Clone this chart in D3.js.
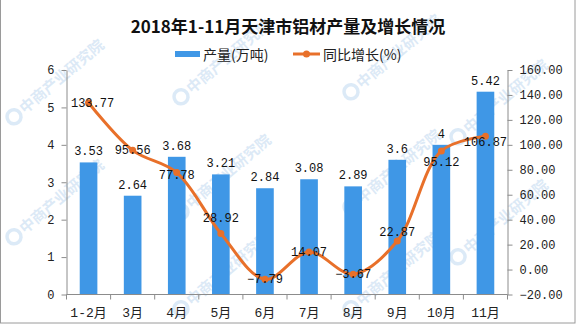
<!DOCTYPE html>
<html>
<head>
<meta charset="utf-8">
<script src="https://cdn.jsdelivr.net/npm/d3@7"></script>
<style>
  html, body { margin: 0; padding: 0; background: #fff; }
  svg { display: block; }
</style>
</head>
<body>
<svg id="chart" width="576" height="327"></svg>
<script>
// 天津市铝材产量（万吨）及同比增长（%）
const categories = ["1-2月", "3月", "4月", "5月", "6月", "7月", "8月", "9月", "10月", "11月"];
const output = [3.53, 2.64, 3.68, 3.21, 2.84, 3.08, 2.89, 3.6, 4, 5.42];
const growth = [133.77, 95.56, 77.78, 28.92, -7.79, 14.07, -3.67, 22.87, 95.12, 106.87];
const leftTicks = [0, 1, 2, 3, 4, 5, 6];
const rightTicks = [-20, 0, 20, 40, 60, 80, 100, 120, 140, 160];

const W = 576, H = 327;
const plot = { left: 66.5, right: 507.5, top: 70, bottom: 294.5 };
const barColor = "#3f97e6";
const lineColor = "#e8702a";
const axisColor = "#8c8c8c";
const numFont = "'Liberation Mono', 'Noto Sans CJK SC', monospace";

const svg = d3.select("#chart");

// frame
svg.append("rect")
  .attr("x", 0.5).attr("y", -1).attr("width", W - 1.5).attr("height", H - 3)
  .attr("fill", "#fff").attr("stroke", "#9a9a9a");

// faint brand watermark
const wm = svg.append("g").attr("pointer-events", "none");
const wmSpots = [[18, 120], [18, 240], [185, 100], [185, 215], [185, 312],
                 [355, 95], [355, 210], [355, 312], [462, 140], [462, 260]];
wmSpots.forEach(([x, y]) => {
  const g = wm.append("g").attr("transform", `translate(${x},${y}) rotate(-40)`);
  g.append("circle").attr("cx", -1).attr("cy", -5).attr("r", 7)
    .attr("fill", "none").attr("stroke", "#9cc3e8").attr("stroke-width", 3.5).attr("opacity", 0.35);
  g.append("text").attr("x", 9).attr("y", 0)
    .attr("font-family", "'Noto Sans CJK SC', sans-serif").attr("font-size", 15)
    .attr("font-weight", "bold")
    .attr("fill", "#9cc3e8").attr("opacity", 0.35)
    .text("中商产业研究院");
});

// title
svg.append("text")
  .attr("x", W / 2).attr("y", 33)
  .attr("text-anchor", "middle")
  .attr("font-family", "'Noto Sans CJK SC', sans-serif")
  .attr("font-size", 17).attr("font-weight", "bold").attr("fill", "#111")
  .text("2018年1-11月天津市铝材产量及增长情况");

// legend
const lg = svg.append("g").attr("font-family", "'Noto Sans CJK SC', sans-serif")
  .attr("font-size", 14).attr("fill", "#222");
lg.append("rect").attr("x", 175).attr("y", 51).attr("width", 25).attr("height", 6).attr("fill", barColor);
lg.append("text").attr("x", 203).attr("y", 60).text("产量(万吨)");
lg.append("line").attr("x1", 293).attr("x2", 320).attr("y1", 54).attr("y2", 54)
  .attr("stroke", lineColor).attr("stroke-width", 3);
lg.append("circle").attr("cx", 306.5).attr("cy", 54).attr("r", 3.5).attr("fill", lineColor);
lg.append("text").attr("x", 323).attr("y", 60).text("同比增长(%)");

// scales
const x = d3.scaleBand().domain(categories)
  .range([plot.left, plot.right]).paddingInner(0.6).paddingOuter(0.3);
const yL = d3.scaleLinear().domain([0, 6]).range([plot.bottom, plot.top]);
const yR = d3.scaleLinear().domain([-20, 160]).range([plot.bottom, plot.top]);
const cx = d => x(d) + x.bandwidth() / 2;

// bars
svg.append("g").selectAll("rect").data(output).join("rect")
  .attr("x", (d, i) => x(categories[i]))
  .attr("width", x.bandwidth())
  .attr("y", d => yL(d))
  .attr("height", d => yL(0) - yL(d))
  .attr("fill", barColor);

// bar value labels
svg.append("g").selectAll("text").data(output).join("text")
  .attr("x", (d, i) => cx(categories[i]))
  .attr("y", d => yL(d) - 7)
  .attr("text-anchor", "middle")
  .attr("font-family", numFont).attr("font-size", 12).attr("fill", "#111")
  .text(d => d);

// axes
function styleAxis(g) {
  g.select(".domain").attr("stroke", axisColor);
  g.selectAll(".tick line").attr("stroke", axisColor);
  g.selectAll(".tick text").attr("fill", "#222")
    .attr("font-family", numFont).attr("font-size", 12);
}

svg.append("g")
  .attr("transform", `translate(${plot.left},0)`)
  .call(d3.axisLeft(yL).tickValues(leftTicks).tickSize(5).tickSizeOuter(0).tickPadding(7)
    .tickFormat(d3.format("d")))
  .call(styleAxis);

svg.append("g")
  .attr("transform", `translate(${plot.right},0)`)
  .call(d3.axisRight(yR).tickValues(rightTicks).tickSize(5).tickSizeOuter(0).tickPadding(7)
    .tickFormat(d3.format(".2f")))
  .call(styleAxis);

// category axis: ticks at band boundaries, labels under band centers
const xa = svg.append("g").attr("transform", `translate(0,${plot.bottom})`);
xa.append("line").attr("x1", plot.left).attr("x2", plot.right)
  .attr("stroke", axisColor);
d3.range(categories.length + 1).forEach(i => {
  const px = plot.left + i * x.step();
  xa.append("line").attr("x1", px).attr("x2", px).attr("y1", 0).attr("y2", 5)
    .attr("stroke", axisColor);
});
xa.append("g")
  .call(d3.axisBottom(x).tickSize(0).tickPadding(13))
  .call(g => g.select(".domain").remove())
  .call(styleAxis)
  .selectAll(".tick text").attr("font-size", 13);

// growth line
const line = d3.line()
  .x((d, i) => cx(categories[i]))
  .y(d => yR(d))
  .curve(d3.curveCatmullRom.alpha(0.5));

svg.append("path").datum(growth)
  .attr("d", line)
  .attr("fill", "none").attr("stroke", lineColor).attr("stroke-width", 3)
  .attr("stroke-linejoin", "round");

svg.append("g").selectAll("circle").data(growth).join("circle")
  .attr("cx", (d, i) => cx(categories[i]))
  .attr("cy", d => yR(d))
  .attr("r", 3.5).attr("fill", lineColor);

// growth value labels, centred on the points with a few nudged off the curve
const labelNudge = [0, 0, 2, -15, 0, 0, 0, -9, 11, 6];
svg.append("g").selectAll("text").data(growth).join("text")
  .attr("x", (d, i) => cx(categories[i]) + (i === 0 ? 4 : 0))
  .attr("y", (d, i) => yR(d) + labelNudge[i] + 4)
  .attr("text-anchor", "middle")
  .attr("font-family", numFont).attr("font-size", 12).attr("fill", "#111")
  .text(d => d3.format(".2f")(d));
</script>
</body>
</html>
